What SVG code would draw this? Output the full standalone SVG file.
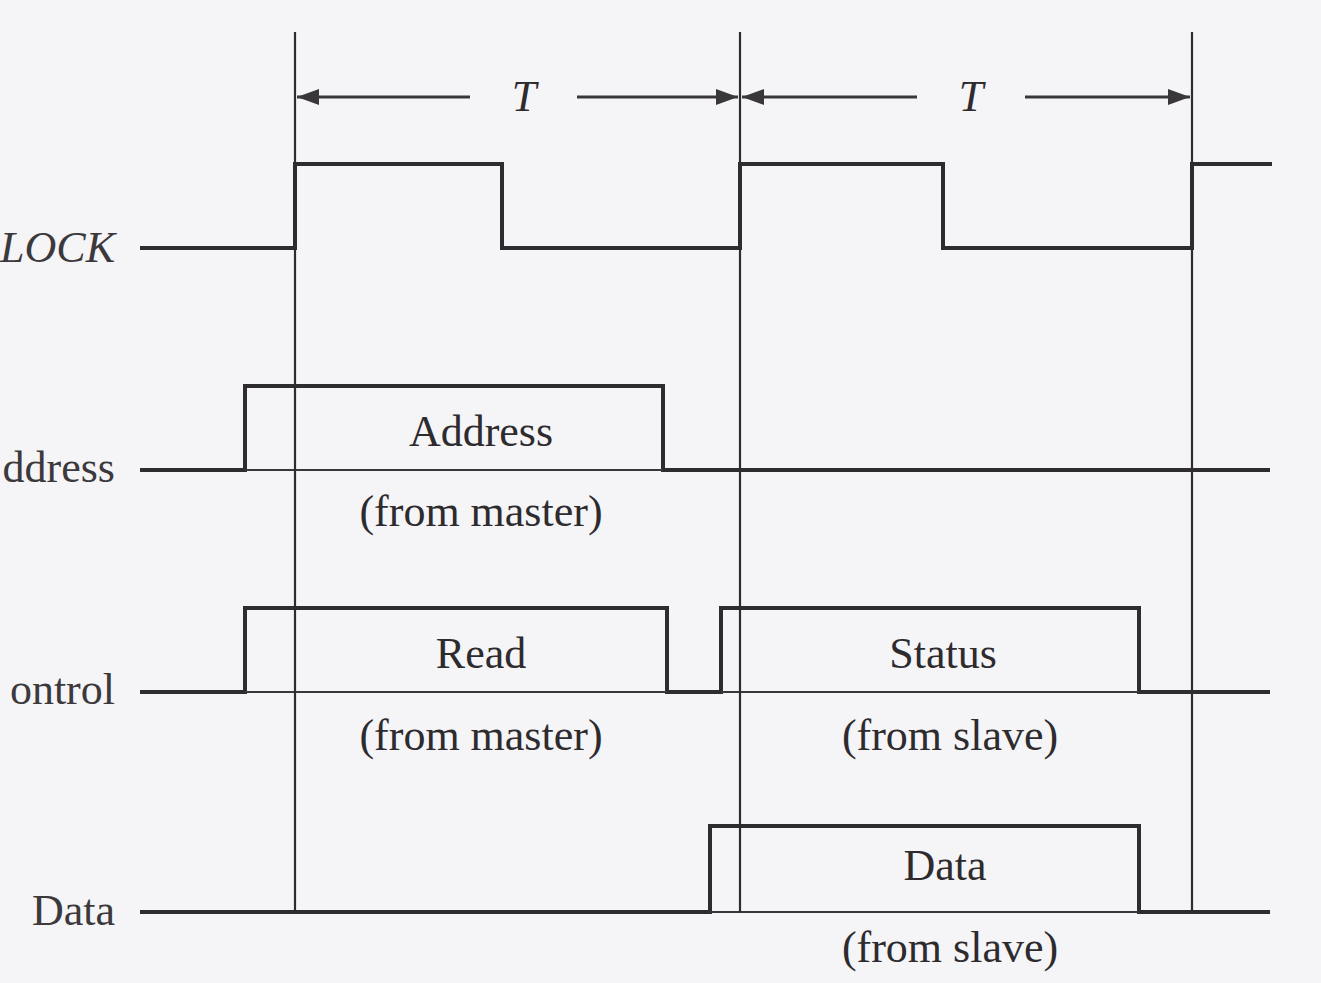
<svg xmlns="http://www.w3.org/2000/svg" width="1321" height="983" viewBox="0 0 1321 983">
  <style>
    .sig { fill: none; stroke: #2f2c30; stroke-width: 4; stroke-linejoin: miter; }
    .thin { fill: none; stroke: #3a373b; stroke-width: 2; }
    .tick { fill: none; stroke: #2f2c30; stroke-width: 2.2; }
    .dim { fill: none; stroke: #3a373b; stroke-width: 3; }
    .lbl { font-family: "Liberation Serif", "Times New Roman", serif; font-size: 44px; fill: #2e2b2f; }
    .name { font-family: "Liberation Serif", "Times New Roman", serif; font-size: 44px; fill: #3c393d; text-anchor: end; }
    .it { font-style: italic; }
    .mid { text-anchor: middle; }
  </style>
  <defs>
    <marker id="head" viewBox="0 0 22 16" refX="22" refY="8" markerWidth="22" markerHeight="16" markerUnits="userSpaceOnUse" orient="auto">
      <path d="M0,0 L22,8 L0,16 Z" fill="#3a373b"/>
    </marker>
  </defs>

  <rect x="0" y="0" width="1321" height="983" fill="#f5f4f6"/>

  <!-- clock line -->
  <g id="clock">
    <text class="name it" x="115" y="262" font-size="42">LOCK</text>
    <path class="sig" d="M140,248 H295 V164 H502 V248 H740 V164 H943 V248 H1192 V164 H1272"/>
  </g>

  <!-- address bus -->
  <g id="address">
    <text class="name" x="115" y="482">ddress</text>
    <path class="sig" d="M140,470 H245 V386 H663 V470 H1270"/>
    <path class="thin" d="M245,470 H663"/>
    <text class="lbl mid" x="481" y="446">Address</text>
    <text class="lbl mid" x="481" y="526">(from master)</text>
  </g>

  <!-- control lines -->
  <g id="control">
    <text class="name" x="115" y="704">ontrol</text>
    <path class="sig" d="M140,692 H245 V608 H667 V692 H721 V608 H1139 V692 H1270"/>
    <path class="thin" d="M245,692 H667 M721,692 H1139"/>
    <text class="lbl mid" x="481" y="668">Read</text>
    <text class="lbl mid" x="481" y="750">(from master)</text>
    <text class="lbl mid" x="943" y="668">Status</text>
    <text class="lbl mid" x="950" y="750">(from slave)</text>
  </g>

  <!-- data bus -->
  <g id="data">
    <text class="name" x="115" y="925">Data</text>
    <path class="sig" d="M140,912 H710 V826 H1139 V912 H1270"/>
    <path class="thin" d="M710,912 H1139"/>
    <text class="lbl mid" x="945" y="880">Data</text>
    <text class="lbl mid" x="950" y="962">(from slave)</text>
  </g>

  <!-- period markers and cycle boundaries -->
  <g id="connectors">
    <path class="tick" d="M295,32 V912"/>
    <path class="tick" d="M740,32 V912"/>
    <path class="tick" d="M1192,32 V912"/>
    <path class="dim" d="M470,97 H297" marker-end="url(#head)"/>
    <path class="dim" d="M577,97 H738" marker-end="url(#head)"/>
    <path class="dim" d="M917,97 H742" marker-end="url(#head)"/>
    <path class="dim" d="M1025,97 H1190" marker-end="url(#head)"/>
  </g>

  <g id="period-labels">
    <text class="lbl it mid" x="524" y="111">T</text>
    <text class="lbl it mid" x="971" y="111">T</text>
  </g>
</svg>
